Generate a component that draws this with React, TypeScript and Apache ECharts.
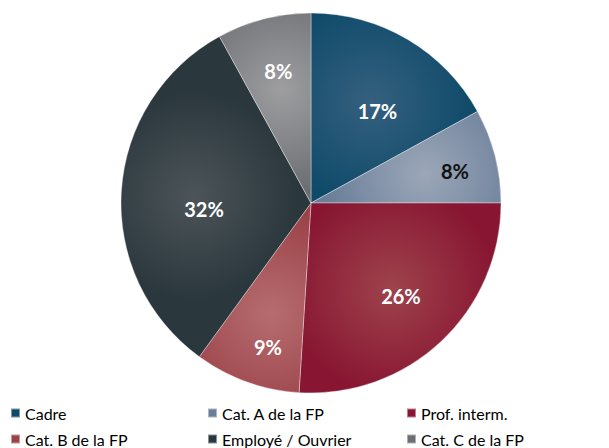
import React, { useEffect, useRef } from "react";
import * as echarts from "echarts";

const categories = ["Cadre", "Cat. A de la FP", "Prof. interm.", "Cat. B de la FP", "Employé / Ouvrier", "Cat. C de la FP"];
const values = [17, 8, 26, 9, 32, 8];
const baseColors = ["#0f4a69", "#687d98", "#881632", "#9b4249", "#2a373d", "#6b6e71"];
const lightColors = ["#35607f", "#9ca7b8", "#9e434c", "#b66d6f", "#4c5459", "#9e9ea1"];
const labelColors = ["#ffffff", "#111111", "#ffffff", "#ffffff", "#ffffff", "#ffffff"];
// label placement (angle clockwise from 12 o'clock in degrees, distance as fraction of radius)
const labelAngles = [36.1, 77.6, 136.0, 196.6, 266.7, 346.1];
const labelRadii = [0.58, 0.76, 0.666, 0.774, 0.548, 0.7];
const legendColumns = [
  ["Cadre", "Cat. B de la FP"],
  ["Cat. A de la FP", "Employé / Ouvrier"],
  ["Prof. interm.", "Cat. C de la FP"],
];

const CX = 311;
const CY = 203;
const R = 190;

export default function App() {
  const ref = useRef<HTMLDivElement>(null);
  useEffect(() => {
    if (!ref.current) return;
    const chart = echarts.init(ref.current, null, { renderer: "svg" });
    const total = values.reduce((a, b) => a + b, 0);
    let cum = 0;
    const data = values.map((v, i) => {
      const mid = ((cum + v / 2) / total) * Math.PI * 2;
      cum += v;
      const d = R * 0.62;
      const gx = CX + d * Math.sin(mid);
      const gy = CY - d * Math.cos(mid);
      const defX = (R / 2) * Math.sin(mid);
      const defY = -(R / 2) * Math.cos(mid);
      const la = (labelAngles[i] * Math.PI) / 180;
      const tX = R * labelRadii[i] * Math.sin(la);
      const tY = -R * labelRadii[i] * Math.cos(la);
      return {
        name: categories[i],
        value: v,
        itemStyle: {
          color: {
            type: "radial",
            x: gx,
            y: gy,
            r: R * 0.55,
            global: true,
            colorStops: [
              { offset: 0, color: lightColors[i] },
              { offset: 1, color: baseColors[i] },
            ],
          },
        },
        label: { color: labelColors[i], offset: [tX - defX, tY - defY] },
      };
    });
    const legendFont = { fontFamily: "Lato", fontSize: 16, color: "#000", lineHeight: 15 };
    const legendLefts = [10, 207, 406];
    chart.setOption({
      animation: false,
      color: baseColors,
      legend: legendColumns.map((col, j) => ({
        orient: "vertical",
        left: legendLefts[j],
        top: 405,
        itemWidth: 9,
        itemHeight: 9,
        itemGap: 10,
        icon: "rect",
        selectedMode: false,
        data: col.map((n) => ({ name: n, itemStyle: { color: baseColors[categories.indexOf(n)] } })),
        textStyle: legendFont,
        padding: 0,
      })),
      series: [
        {
          type: "pie",
          center: [CX, CY],
          radius: [0, R],
          startAngle: 90,
          clockwise: true,
          data,
          label: {
            show: true,
            position: "inside",
            formatter: "{c}%",
            fontFamily: "Lato",
            fontWeight: "bold",
            fontSize: 20,
          },
          labelLine: { show: false },
          itemStyle: { borderColor: "rgba(255,255,255,0.45)", borderWidth: 0.8 },
          emphasis: { disabled: true },
        },
      ],
    });
    return () => chart.dispose();
  }, []);
  return (
    <div
      ref={ref}
      style={{ position: "fixed", left: 0, top: 0, width: 609, height: 448, background: "#fff" }}
    />
  );
}
